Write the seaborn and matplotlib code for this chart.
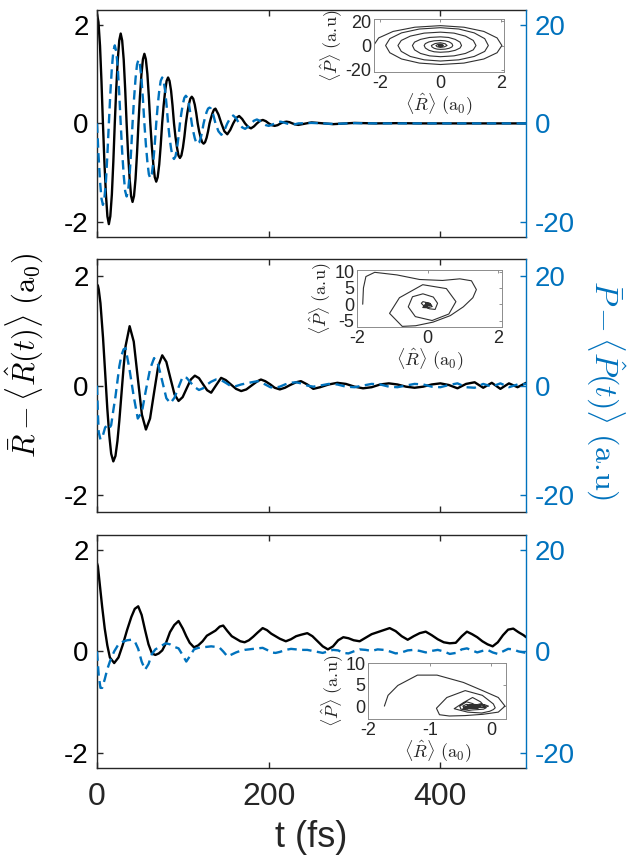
import numpy as np
import pandas as pd
import seaborn as sns
import matplotlib
matplotlib.use("Agg")
import matplotlib.pyplot as plt

# ---------------- data ----------------
# Panel 1 : time (fs), R-bar - <R>(t) (a0), P-bar - <P>(t) (a.u)
t_top = [0, 1.7, 3.5, 5.2, 6.9, 8.6, 10.4, 12.1, 13.8, 15.5, 17.3, 19.0, 20.7, 22.4,
         24.2, 25.9, 27.6, 29.3, 31.1, 32.8, 34.5, 36.2, 38.0, 39.7, 41.4, 43.1, 44.9,
         46.6, 48.3, 50.0, 51.8, 53.5, 55.2, 56.9, 58.7, 60.4, 62.1, 63.8, 65.6, 67.3,
         69.0, 70.7, 72.5, 74.2, 75.9, 77.6, 79.4, 81.1, 82.8, 84.5, 86.3, 88.0, 89.7,
         91.4, 93.2, 94.9, 96.6, 98.3, 100.1, 101.8, 103.5, 105.2, 107.0, 108.7, 110.4,
         112.1, 113.9, 115.6, 117.3, 119.0, 120.8, 122.5, 124.2, 125.9, 127.7, 129.4,
         131.1, 132.8, 134.6, 136.3, 138.0,
         141.5, 144.9, 148.4, 151.8, 155.3, 158.7, 162.2, 165.6, 169.1, 172.5, 176.0,
         179.4, 182.9, 186.3, 189.8, 193.2, 196.7, 200.1, 203.6, 207.0, 210.5, 213.9,
         217.4, 220.8, 224.3, 227.7, 231.2, 234.6,
         250, 275, 300, 325, 350, 375, 400, 425, 450, 475, 500]
r_top = [2.22, 2.05, 1.57, 0.85, 0, -0.78, -1.44, -1.88, -2.04,
         -1.88, -1.44, -0.78, 0, 0.70, 1.29, 1.68, 1.82,
         1.68, 1.29, 0.70, 0, -0.61, -1.12, -1.47, -1.59,
         -1.47, -1.12, -0.61, 0, 0.54, 1.00, 1.30, 1.41,
         1.30, 1.00, 0.54, 0, -0.45, -0.83, -1.09, -1.18,
         -1.09, -0.83, -0.45, 0, 0.36, 0.66, 0.86, 0.93,
         0.86, 0.66, 0.36, 0, -0.27, -0.49, -0.65, -0.70,
         -0.65, -0.49, -0.27, 0, 0.21, 0.38, 0.50, 0.54,
         0.50, 0.38, 0.21, 0, -0.16, -0.29, -0.38, -0.41,
         -0.38, -0.29, -0.16, 0, 0.11, 0.21, 0.28, 0.30,
         0.18, 0, -0.16, -0.22, -0.13, 0, 0.11, 0.15, 0.09, 0, -0.07, -0.10, -0.06, 0,
         0.05, 0.07, 0.045, 0, -0.035, -0.05, -0.035, 0, 0.025, 0.035, 0.025, 0, -0.02,
         -0.03,
         0.02, -0.015, 0.01, 0, 0.005, 0, 0, 0, 0, 0, 0]
p_top = [0, -6.3, -11.7, -15.2, -16.5, -15.2, -11.7, -6.3, 0,
         6.0, 11.2, 14.6, 15.8, 14.6, 11.2, 6.0, 0,
         -5.7, -10.5, -13.7, -14.8, -13.7, -10.5, -5.7, 0,
         4.9, 9.1, 11.9, 12.9, 11.9, 9.1, 4.9, 0,
         -4.2, -7.8, -10.3, -11.1, -10.3, -7.8, -4.2, 0,
         3.6, 6.6, 8.6, 9.3, 8.6, 6.6, 3.6, 0,
         -2.8, -5.1, -6.7, -7.2, -6.7, -5.1, -2.8, 0,
         2.1, 4.0, 5.2, 5.6, 5.2, 4.0, 2.1, 0,
         -1.6, -3.0, -3.9, -4.2, -3.9, -3.0, -1.6, 0,
         1.2, 2.3, 3.0, 3.2, 3.0, 2.3, 1.2, 0,
         -1.6, -2.3, -1.4, 0, 1.1, 1.6, 1.0, 0, -0.8, -1.1, -0.7, 0, 0.55, 0.8, 0.5, 0,
         -0.35, -0.5, -0.3, 0, 0.25, 0.35, 0.2, 0, -0.15, -0.25, -0.15, 0,
         0.1, -0.1, 0.05, 0, 0, 0, 0, 0, 0, 0, 0]

# Panel 2
t_mid = [0, 1, 2, 4, 7, 9.5, 12, 14.3, 16.5, 19, 21.5, 23.8, 26, 28.5, 31, 33.3, 38,
         42.8, 47.5, 52.3, 57, 61.8, 66.5, 71.3, 76, 80.8, 85.5, 90.3, 95, 99.8, 104.5,
         109.3, 114, 118.8, 123.5, 128.3, 133, 138.5, 144.6, 150, 156, 162, 168, 174,
         180, 187, 191, 196, 202, 207, 213, 219, 225, 232, 237.6, 245, 252,
         260, 270, 280, 290, 300, 310, 320, 330, 340, 350, 360, 370, 380, 390, 400,
         410, 420, 430, 440, 450, 460, 470, 480, 490, 500]
r_mid = [1.84, 1.82, 1.75, 1.50, 0.87, 0.23, -0.42, -0.91, -1.24, -1.38, -1.28, -1.01,
         -0.64, -0.15, 0.34, 0.72, 1.08,
         0.80, 0.14, -0.53, -0.80, -0.60, -0.125, 0.35, 0.55, 0.43, 0.135, -0.16, -0.28,
         -0.21, -0.05, 0.11, 0.18, 0.135, 0.025, -0.085, -0.13, 0.0, 0.14, 0.10, 0.02,
         -0.06, -0.10, -0.07, 0.0, 0.08, 0.11, 0.08, 0.02, -0.04, -0.07, -0.04, 0.01,
         0.06, 0.08, 0.02, -0.06,
         -0.03, 0.02, 0.05, 0.03, -0.02, -0.05, -0.03, 0.02, 0.04, 0.02, -0.02, -0.04,
         -0.02, 0.02, 0.04, 0.01, -0.05, 0.03, 0.06, -0.04, 0.05, -0.06, 0.04, -0.03, 0.05]
p_mid = [0, -5.0, -8.5, -9.8, -9.0, -7.6, -7.3, -7.8, -7.2, -4.5, -2.0, 0.8, 3.5, 5.5,
         6.6, 6.8, 2.8,
         -2.0, -6.0, -4.8, -0.8, 3.0, 5.0, 3.8, 0.8, -2.3, -3.2, -2.2, -0.3, 1.6, 1.4,
         0.5, -0.3, -0.8, -0.5, 0.2, 0.7, 1.1, 1.0, 0.5, -0.1, -0.1, 0.2, 0.4, 0.6, 0.8,
         0.6, 0.2, -0.3, -0.4, -0.2, 0.2, 0.5, 0.6, 0.4, 0.0, -0.2,
         0.0, 0.3, 0.2, -0.2, -0.3, 0.0, 0.3, 0.2, -0.2, -0.3, 0.0, 0.3, 0.2, -0.2,
         -0.3, 0.1, 0.4, -0.3, -0.4, 0.3, -0.2, 0.4, -0.3, 0.2, 0.3]

# Panel 3
t_bot = [0, 1, 2, 4, 6, 9, 12, 15, 20, 25, 30, 35, 40, 44, 48, 52, 56, 60, 64, 68, 72, 76,
         80, 85, 90, 95, 100, 104, 108, 113, 118, 123, 128, 133, 138, 143, 147, 152,
         157, 162, 167, 172, 177, 182, 187, 193, 198, 203, 208, 213, 220, 226, 232, 238,
         245, 251, 257, 263, 269, 275, 281, 287, 293, 299, 306, 313, 320, 327, 334, 341,
         348, 355, 362, 369, 376, 383, 390, 397, 404, 411, 418, 425, 431, 437, 443, 449,
         455, 461, 467, 473, 479, 485, 491, 497, 500]
r_bot = [1.74, 1.68, 1.52, 1.20, 0.88, 0.45, 0.12, -0.12, -0.23, -0.12, 0.13, 0.42, 0.68,
         0.84, 0.89, 0.72, 0.42, 0.14, -0.04, -0.07, -0.04, 0.02, 0.15, 0.38, 0.52, 0.60,
         0.45, 0.30, 0.17, 0.08, 0.12, 0.20, 0.31, 0.36, 0.41, 0.49, 0.51, 0.40, 0.30,
         0.25, 0.20, 0.18, 0.22, 0.29, 0.37, 0.46, 0.42, 0.35, 0.30, 0.25, 0.20, 0.24,
         0.30, 0.33, 0.36, 0.30, 0.20, 0.10, 0.04, 0.10, 0.22, 0.28, 0.26, 0.22, 0.20,
         0.27, 0.34, 0.38, 0.42, 0.46, 0.40, 0.30, 0.23, 0.30, 0.36, 0.39, 0.32, 0.24,
         0.18, 0.16, 0.17, 0.30, 0.39, 0.34, 0.28, 0.20, 0.14, 0.10, 0.18, 0.32, 0.43,
         0.45, 0.38, 0.32, 0.28]
p_bot = [0, -2.5, -4.8, -7.2, -7.2, -5.5, -3.5, -2.0, 0.0, 1.4, 1.9, 2.2, 2.3, 2.0, 0.5,
         -2.0, -3.6, -2.5, -0.5, 0.4, 0.8, 1.2, 1.6, 1.4, 0.9, 0.6, -0.8, -2.0, -1.0, 0.4,
         0.7, 0.8, 0.9, 1.0, 0.9, 0.7, 0.0, -1.0, -0.6, -0.2, 0.1, 0.3, 0.4, 0.5, 0.6,
         0.7, 0.3, -0.2, -0.3, -0.1, 0.3, 0.5, 0.4, 0.3, 0.3, 0.1, -0.1, -0.3, 0.0, 0.3,
         0.2, -0.3, -0.4, 0.0, 0.4, 0.3, 0.1, 0.4, 0.3, 0.0, -0.4, -0.2, 0.2, 0.3, 0.1,
         -0.2, 0.1, 0.3, 0.0, -0.5, -0.3, 0.4, 0.6, 0.2, -0.2, 0.1, 0.3, -0.2, -0.5, 0.0,
         0.5, 0.4, 0.0, -0.2, -0.3]

main_xticks = [0, 200, 400]
left_yticks = [-2, 0, 2]
right_yticks = [-20, 0, 20]
inset_xticks = [[-2, 0, 2], [-2, 0, 2], [-2, -1, 0]]
inset_yticks = [[-20, 0, 20], [-5, 0, 5, 10], [0, 5, 10]]
inset_xlims = [(-2.2, 2.1), (-2.0, 2.1), (-2.0, 0.25)]
inset_ylims = [(-22, 22), (-7, 10.5), (-3, 10)]

BLUE = "#0072BD"
DARK = "#262626"
AU = r"\mathrm{a}.\!\mathrm{u}"

sns.set_style("white")
plt.rcParams["font.family"] = ["Liberation Sans", "DejaVu Sans"]
plt.rcParams["mathtext.fontset"] = "cm"
plt.rcParams["axes.unicode_minus"] = False
plt.rcParams["xtick.direction"] = "in"
plt.rcParams["ytick.direction"] = "in"

fig = plt.figure(figsize=(6.32, 8.57), dpi=100)

main_rects = [[0.1535, 0.7235, 0.679, 0.265],
              [0.1535, 0.4026, 0.679, 0.295],
              [0.1535, 0.1039, 0.679, 0.272]]
inset_rects = [[0.592, 0.916, 0.205, 0.0618],
               [0.565, 0.6184, 0.229, 0.0665],
               [0.583, 0.161, 0.218, 0.0653]]

panels = [(t_top, r_top, p_top), (t_mid, r_mid, p_mid), (t_bot, r_bot, p_bot)]

for i, (t, r, p) in enumerate(panels):
    df = pd.DataFrame({"t": t, "dR": r, "dP": p})
    ax = fig.add_axes(main_rects[i])
    sns.lineplot(data=df, x="t", y="dR", ax=ax, color="black", lw=1.7,
                 estimator=None, sort=False, solid_joinstyle="round")
    ax.set_xlim(0, 500)
    ax.set_ylim(-2.3, 2.3)
    ax.set_xticks(main_xticks)
    ax.set_yticks(left_yticks)
    ax.set_xlabel("")
    ax.set_ylabel("")
    ax.tick_params(axis="both", which="both", top=True, bottom=True, left=True,
                   right=False, length=4, width=1.0, color=DARK)
    ax.tick_params(axis="y", labelsize=20, labelcolor="black", pad=6)
    ax.tick_params(axis="x", labelsize=23, labelcolor=DARK, pad=10)
    if i < 2:
        ax.set_xticklabels([])
    for s in ["left", "top", "bottom"]:
        ax.spines[s].set_color(DARK)
        ax.spines[s].set_linewidth(1.0)
    ax.spines["right"].set_visible(False)

    ax2 = ax.twinx()
    sns.lineplot(data=df, x="t", y="dP", ax=ax2, color=BLUE, lw=1.7,
                 estimator=None, sort=False)
    ax2.lines[-1].set_dashes([4.0, 2.3])
    ax2.set_ylim(-23, 23)
    ax2.set_yticks(right_yticks)
    ax2.set_ylabel("")
    ax2.tick_params(axis="y", right=True, left=False, length=4, width=1.0,
                    color=BLUE, labelcolor=BLUE, labelsize=20, pad=6)
    for s in ["left", "top", "bottom"]:
        ax2.spines[s].set_visible(False)
    ax2.spines["right"].set_color(BLUE)
    ax2.spines["right"].set_linewidth(1.0)

    # inset phase-space portrait
    ins = fig.add_axes(inset_rects[i])
    ins.set_facecolor("white")
    idf = pd.DataFrame({"R": -df["dR"], "P": -df["dP"]})
    sns.lineplot(data=idf, x="R", y="P", ax=ins, color="#303030", lw=0.8,
                 estimator=None, sort=False, solid_joinstyle="round")
    ins.set_xlim(*inset_xlims[i])
    ins.set_ylim(*inset_ylims[i])
    ins.set_xticks(inset_xticks[i])
    ins.set_yticks(inset_yticks[i])
    ins.tick_params(axis="both", which="both", top=True, right=True, length=2.5,
                    width=0.6, color="#808080", labelsize=13, pad=2)
    for s in ins.spines.values():
        s.set_color("#8c8c8c")
        s.set_linewidth(0.7)
    ins.set_xlabel(r"$\langle\hat{R}\rangle\ (\mathrm{a}_0)$", fontsize=13, labelpad=0)
    ins.set_ylabel(r"$\langle\hat{P}\rangle\ (" + AU + ")$", fontsize=13, labelpad=0)

ax.set_xlabel("t (fs)", fontsize=26, color=DARK, labelpad=6)

fig.text(0.04, 0.585, r"$\bar{R}-\langle\hat{R}(t)\rangle\ (\mathrm{a}_0)$",
         rotation=90, ha="center", va="center", fontsize=22, color="black")
fig.text(0.958, 0.545, r"$\bar{P}-\langle\hat{P}(t)\rangle\ (" + AU + ")$",
         rotation=270, ha="center", va="center", fontsize=23, color=BLUE)

fig.savefig("out.png", dpi=100, facecolor="white")
